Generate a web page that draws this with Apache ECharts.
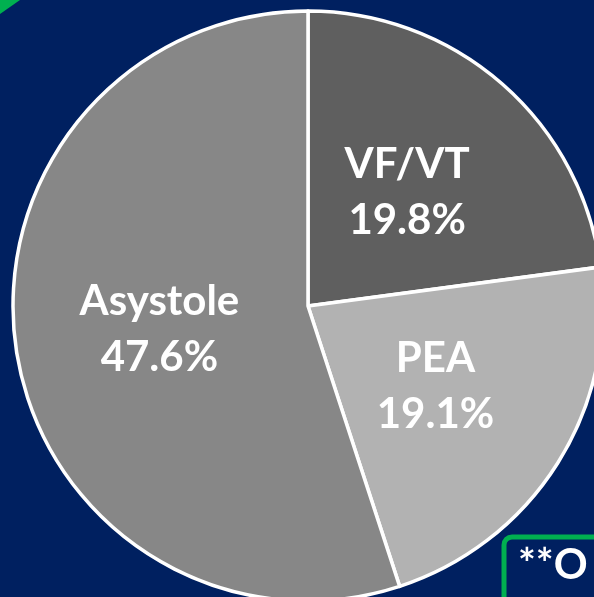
<!DOCTYPE html>
<html><head><meta charset="utf-8">
<script src="https://cdn.jsdelivr.net/npm/echarts@6/dist/echarts.min.js"></script>
<style>html,body{margin:0;padding:0;background:#002060;}#c{width:594px;height:597px;}</style>
</head><body><div id="c"></div>
<script>
const categories = ['VF/VT', 'PEA', 'Asystole'];
const values = [19.8, 19.1, 47.6];
const sliceColors = ['#5f5f5f', '#b2b2b2', '#878787'];
const noteText = '**O';

const chart = echarts.init(document.getElementById('c'), null, {renderer: 'canvas'});
chart.setOption({
  backgroundColor: '#002060',
  animation: false,
  graphic: [
    {type: 'polygon', shape: {points: [[0,0],[20,0],[0,14]]}, style: {fill: '#00b050'}},
    {type: 'rect', shape: {x: 504, y: 537, width: 140, height: 100, r: 8},
     style: {fill: 'none', stroke: '#00b050', lineWidth: 5}},
    {type: 'text', x: 518, y: 586, style: {text: noteText, fill: '#ffffff',
     verticalAlign: 'alphabetic', textVerticalAlign: 'bottom',
     font: 'bold 42px Lato, "Open Sans", sans-serif'}}
  ],
  series: [{
    type: 'pie',
    center: [308, 306],
    radius: 295,
    startAngle: 90,
    clockwise: true,
    silent: true,
    data: categories.map((n, i) => ({name: n, value: values[i], itemStyle: {color: sliceColors[i]}})),
    itemStyle: {borderColor: '#ffffff', borderWidth: 3.5},
    label: {
      show: true, position: 'inside', color: '#ffffff',
      fontFamily: 'Lato, "Open Sans", sans-serif', fontWeight: 'bold', fontSize: 42,
      lineHeight: 56,
      formatter: p => p.name + '\n' + p.value.toFixed(1) + '%'
    },
    labelLine: {show: false}
  }]
});
</script></body></html>
